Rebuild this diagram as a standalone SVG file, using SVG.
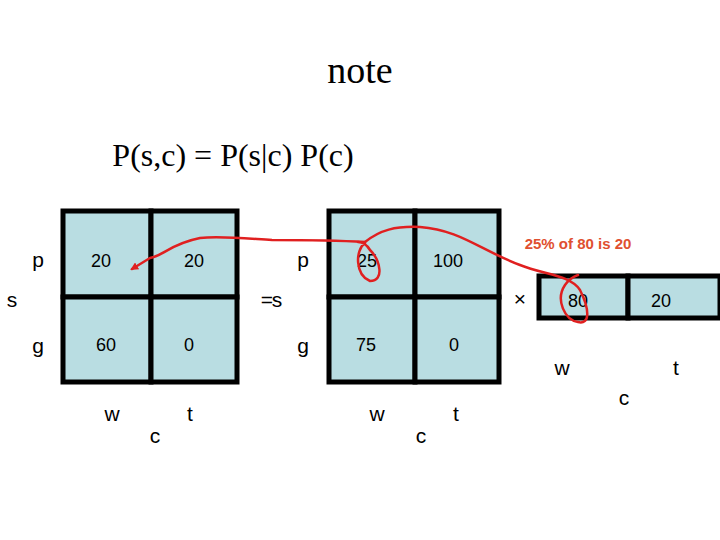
<svg xmlns="http://www.w3.org/2000/svg" width="720" height="540" viewBox="0 0 720 540">
<style>
.c{fill:#b9dde2;stroke:#000;stroke-width:5}
.t{font-family:"Liberation Sans",Arial,sans-serif;font-size:18px;text-anchor:middle}
.l{font-family:"Liberation Sans",Arial,sans-serif;font-size:21px;text-anchor:middle}
.s{font-family:"Liberation Serif","Times New Roman",serif;text-anchor:middle}
.r{fill:none;stroke:#e02020;stroke-width:2.5;stroke-linecap:round;stroke-linejoin:round}
</style>
<defs><marker id="a" markerWidth="8" markerHeight="8" refX="6" refY="4" orient="auto" markerUnits="userSpaceOnUse"><path d="M0,0L8,4L0,8z" fill="#e02020"/></marker></defs>
<rect width="720" height="540" fill="#fff"/>
<text class="s" x="360" y="83" font-size="38">note</text>
<text class="s" x="233" y="166" font-size="32">P(s,c) = P(s|c) P(c)</text>
<g id="grid1">
<rect class="c" x="63" y="211" width="88" height="86"/><rect class="c" x="151" y="211" width="86" height="86"/>
<rect class="c" x="63" y="297" width="88" height="85"/><rect class="c" x="151" y="297" width="86" height="85"/>
<text class="t" x="101" y="267">20</text><text class="t" x="194" y="267">20</text>
<text class="t" x="106" y="351">60</text><text class="t" x="189" y="351">0</text>
<text class="l" x="38" y="267">p</text><text class="l" x="38" y="353">g</text><text class="l" x="12" y="307">s</text>
<text class="l" x="112" y="421">w</text><text class="l" x="190" y="421">t</text><text class="l" x="155" y="443">c</text>
</g>
<g id="eq"><text class="l" x="267" y="307" font-size="26">=</text><text class="l" x="277" y="307">s</text></g>
<g id="grid2">
<rect class="c" x="329" y="211" width="86" height="86"/><rect class="c" x="415" y="211" width="84" height="86"/>
<rect class="c" x="329" y="297" width="86" height="85"/><rect class="c" x="415" y="297" width="84" height="85"/>
<text class="t" x="367" y="267">25</text><text class="t" x="448" y="267">100</text>
<text class="t" x="366" y="351">75</text><text class="t" x="454" y="351">0</text>
<text class="l" x="303" y="267">p</text><text class="l" x="303" y="353">g</text>
<text class="l" x="377" y="421">w</text><text class="l" x="456" y="421">t</text><text class="l" x="421" y="443">c</text>
</g>
<g id="grid3">
<text class="l" x="520" y="306">×</text>
<rect class="c" x="539" y="276" width="89" height="42"/><rect class="c" x="628" y="276" width="92" height="42"/>
<text class="t" x="578" y="307">80</text><text class="t" x="661" y="307">20</text>
<text class="l" x="562" y="375">w</text><text class="l" x="676" y="375">t</text><text class="l" x="624" y="405">c</text>
</g>
<g id="connectors">
<path class="r" d="M365,242 C330,240 300,240 272,240 C240,238 220,236 200,238 C170,244 165,255 150,258 L132,269" marker-end="url(#a)"/>
<path class="r" d="M365,243 C355,250 355,275 370,281 C385,281 380,260 370,250 C367,245 362,242 358,242"/>
<path class="r" d="M365,242 C380,230 395,226 420,227 C460,230 480,250 520,265 C545,275 570,275 580,290 C590,310 590,325 578,322 C565,320 555,300 565,285 C570,278 575,276 578,275"/>
<text x="578" y="249" font-family="Liberation Sans,Arial,sans-serif" font-size="15" font-weight="bold" fill="#e05030" text-anchor="middle">25% of 80 is 20</text>
</g>
</svg>
